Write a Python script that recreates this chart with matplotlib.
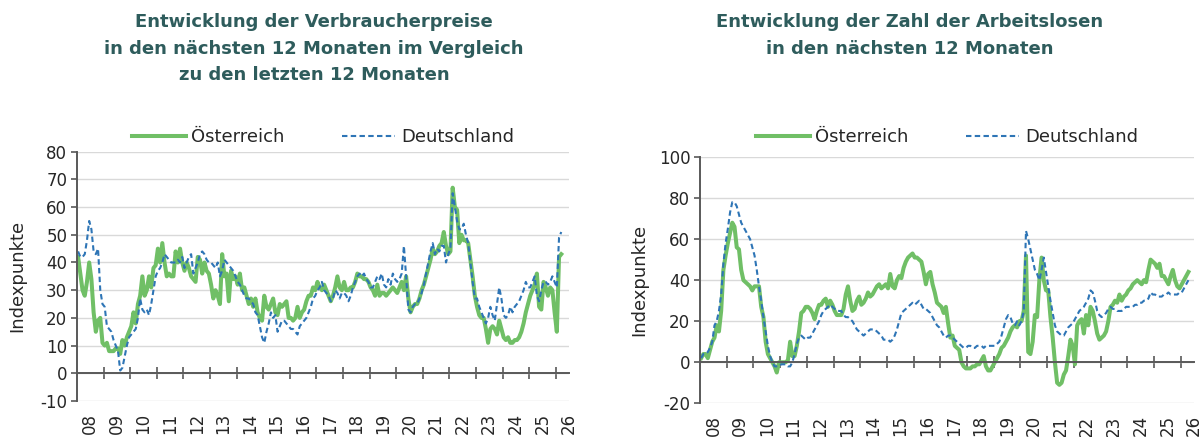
import numpy as np
import matplotlib
matplotlib.use("Agg")
import matplotlib.pyplot as plt
from matplotlib.lines import Line2D
import matplotlib.transforms as mtransforms

# Monatswerte Jänner 2008 bis Anfang 2026 (Indexpunkte), je Zeile ein Jahr
preise_at = [
    42, 36, 30, 28, 33, 40, 34, 22, 15, 19, 20, 11,
    10, 11, 8, 8, 8, 9, 9, 7, 12, 10, 13, 15,
    17, 22, 18, 25, 28, 35, 28, 30, 35, 31, 38, 39,
    45, 40, 47, 40, 35, 36, 35, 35, 44, 40, 45, 40,
    37, 40, 38, 35, 34, 33, 42, 41, 36, 40, 37, 36,
    32, 27, 30, 28, 25, 43, 35, 36, 26, 37, 34, 35,
    32, 36, 30, 31, 28, 25, 27, 24, 27, 22, 20, 19,
    28, 24, 23, 25, 27, 22, 21, 25, 24, 25, 26, 20,
    20, 19, 20, 24, 20, 22, 23, 26, 28, 28, 31, 30,
    33, 31, 30, 32, 30, 28, 26, 28, 31, 35, 31, 30,
    33, 30, 30, 31, 31, 33, 36, 35, 35, 34, 34, 33,
    31, 30, 28, 32, 28, 29, 29, 28, 29, 30, 31, 30,
    29, 31, 33, 30, 35, 27, 22, 24, 25, 25, 27, 30,
    32, 35, 38, 41, 45, 43, 44, 46, 47, 51, 46, 43,
    44, 67, 60, 59, 47, 50, 48, 48, 47, 41, 35, 28,
    24, 21, 20, 20, 16, 11, 16, 17, 16, 14, 19, 16,
    13, 12, 13, 11, 11, 12, 12, 13, 15, 18, 22, 25,
    28, 30, 32, 36, 24, 23, 33, 31, 28, 31, 30, 22,
    15, 42, 43,
]
preise_de = [
    44, 42, 42, 43, 48, 55, 52, 44, 43, 45, 30, 25,
    24, 17, 16, 15, 12, 10, 8, 1, 2, 6, 10, 13,
    14, 15, 16, 20, 27, 23, 22, 23, 21, 25, 30, 35,
    37, 38, 40, 43, 42, 41, 40, 40, 40, 41, 40, 42,
    38, 40, 42, 43, 36, 38, 40, 43, 44, 43, 41, 40,
    40, 39, 38, 40, 35, 37, 41, 40, 39, 38, 37, 35,
    33, 32, 30, 28, 27, 27, 26, 25, 22, 21, 17, 13,
    11, 15, 18, 22, 20, 21, 15, 17, 19, 19, 18, 17,
    16, 16, 15, 14, 17, 18, 19, 20, 22, 24, 27, 28,
    30, 31, 33, 30, 29, 28, 26, 27, 30, 29, 27, 29,
    29, 28, 26, 28, 31, 33, 35, 36, 35, 36, 34, 33,
    31, 31, 33, 35, 34, 36, 32, 31, 34, 32, 36, 34,
    33, 34, 36, 46, 35, 23, 22, 24, 25, 25, 27, 29,
    32, 36, 40, 44, 47, 43, 45, 44, 46, 46, 40, 43,
    45, 65, 60, 55, 52, 52, 54, 50, 47, 40, 33, 27,
    27, 24, 22, 20, 18, 20, 24, 21, 19, 25, 31, 27,
    21, 20, 21, 24, 22, 24, 25, 26, 28, 30, 33, 31,
    31, 33, 35, 28, 26, 30, 33, 33, 32, 33, 35, 33,
    31, 49, 51,
]
arbeitslose_at = [
    2, 4, 4, 2, 6, 10, 12, 18, 15, 25, 45, 52,
    58, 63, 68, 66, 56, 55, 45, 40, 39, 38, 37, 35,
    37, 37, 37, 27, 22, 10, 4, 2, 0, -2, -5, 0,
    0, 0, 0, 1, 10, 3, 3, 8, 15, 24, 25, 27,
    27, 26, 24, 21, 25, 28, 28, 30, 31, 27, 30, 28,
    25, 23, 23, 23, 26, 33, 37, 30, 25, 26, 30, 32,
    28, 29, 31, 34, 32, 33, 35, 37, 38, 36, 37, 38,
    36, 43, 37, 36, 40, 42, 41, 46, 49, 51, 52, 53,
    51, 51, 50, 49, 44, 38, 43, 44, 38, 34, 29, 28,
    27, 24, 27, 19, 12, 13, 8, 7, 6, 0, -2, -3,
    -3, -3, -2, -2, -1, -1, 1, 3, -2, -4, -4, -2,
    0, 2, 4, 7, 8, 10, 12, 15, 17, 18, 17, 20,
    20, 25, 52, 5, 4, 10, 23, 22, 40, 51, 40, 35,
    35, 22, 12, 0, -10, -11, -10, -6, -4, 3, 11, 8,
    -1, 18, 20, 21, 14, 23, 18, 27, 25, 20, 14, 11,
    12, 13, 15, 20, 27, 28, 30, 29, 33, 30, 32, 33,
    35, 36, 38, 39, 40, 39, 38, 40, 39, 45, 50, 49,
    48, 46, 48, 42, 42, 40, 38, 42, 45, 40, 37, 36,
    38, 40, 42, 44,
]
arbeitslose_de = [
    2, 4, 4, 5, 7, 10, 18, 20, 25, 33, 48, 58,
    65, 73, 78, 78, 76, 72, 68, 66, 64, 62, 60, 56,
    52, 45, 37, 30, 22, 15, 8, 3, 0, -2, -2, -2,
    -1, -1, -1, -2, -2, 0, 4, 9, 12, 13, 12, 11,
    12, 12, 14, 16, 18, 20, 23, 25, 26, 27, 28, 27,
    26, 25, 25, 25, 23, 22, 22, 21, 20, 18, 16, 15,
    14, 13, 14, 15, 16, 16, 16, 15, 14, 13, 11, 11,
    11, 10, 11, 13, 16, 20, 24, 25, 26, 27, 28, 29,
    28, 29, 30, 28, 26, 26, 25, 24, 22, 20, 18, 17,
    15, 13, 12, 13, 13, 12, 11, 10, 9, 8, 7, 7,
    8, 8, 7, 7, 8, 8, 8, 7, 8, 8, 8, 8,
    8, 9, 10, 13, 17, 21, 23, 22, 19, 18, 20, 18,
    20, 25, 64, 60, 55, 50, 45, 43, 40, 45, 51, 44,
    37, 30, 24, 18, 15, 14, 13, 13, 15, 17, 18, 19,
    21, 23, 25, 26, 27, 29, 31, 35, 34, 30, 25, 23,
    22, 23, 24, 26, 27, 26, 26, 25, 25, 25, 26, 27,
    27, 27, 27, 28, 28, 29, 29, 30, 30, 31, 34, 33,
    33, 32, 32, 32, 33, 33, 34, 33, 33, 33, 33, 34,
    34, 36, 38, 40,
]

jahre = list(range(2008, 2027))
jahr_labels = [f"{j % 100:02d}" for j in jahre]

titel_links = ["Entwicklung der Verbraucherpreise",
               "in den nächsten 12 Monaten im Vergleich",
               "zu den letzten 12 Monaten"]
titel_rechts = ["Entwicklung der Zahl der Arbeitslosen",
                "in den nächsten 12 Monaten"]

GRUEN = "#70BF66"
BLAU = "#2E75B6"
TITEL = "#2E5C5C"
ACHSE = "#595959"
TEXT = "#262626"
STRICH = (0, (2.6, 1.6))

plt.rcParams['font.family'] = ['DejaVu Sans']
plt.rcParams['axes.unicode_minus'] = False


def monate(werte):
    # Monatsmitte als Jahresbruchteil
    return 2008 + (np.arange(len(werte)) + 0.5) / 12.0


def zeichne_panel(fig, ax, at, de, ymin, ymax, ystep):
    ax.plot(monate(at), at, color=GRUEN, lw=2.9, solid_joinstyle='round')
    ax.plot(monate(de), de, color=BLAU, lw=1.5, linestyle=STRICH)

    ax.set_xlim(2008, 2026.5)
    ax.set_ylim(ymin, ymax)
    ax.set_yticks(np.arange(ymin, ymax + 1, ystep))
    ax.yaxis.grid(True, color="#D9D9D9", lw=1.0)
    ax.set_axisbelow(True)

    # Zeitachse bei 0 mit Jahresstrichen
    ax.spines['bottom'].set_position(('data', 0))
    for s in ['bottom', 'left']:
        ax.spines[s].set_color(ACHSE)
        ax.spines[s].set_linewidth(1.4)
    ax.spines['top'].set_visible(False)
    ax.spines['right'].set_visible(False)
    ax.set_xticks(jahre[1:])
    ax.tick_params(axis='x', direction='inout', length=8, width=1.2,
                   color=ACHSE, labelbottom=False)
    ax.tick_params(axis='y', direction='out', length=4, width=1.2,
                   color=ACHSE, labelsize=12, labelcolor=TEXT, pad=3)

    # Jahreszahlen unter dem Diagramm
    trans = mtransforms.blended_transform_factory(ax.transData, ax.transAxes)
    trans = trans + mtransforms.ScaledTranslation(0, -0.12, fig.dpi_scale_trans)
    for j, lab in zip(jahre, jahr_labels):
        ax.text(j + 0.5, 0, lab, transform=trans, rotation=90,
                ha='center', va='top', fontsize=12, color=TEXT)

    ax.set_ylabel("Indexpunkte", fontsize=13, color=TEXT)
    ax.yaxis.set_label_coords(-0.104, 0.5)

    handles = [Line2D([], [], color=GRUEN, lw=2.9),
               Line2D([], [], color=BLAU, lw=1.5, linestyle=STRICH)]
    ax.legend(handles, ["Österreich", "Deutschland"], loc='center',
              bbox_to_anchor=(0.5, 1.0), ncol=2, frameon=False,
              fontsize=13, handlelength=2.95, handletextpad=0.3,
              columnspacing=3.2, labelcolor=TEXT)


def main():
    fig = plt.figure(figsize=(12.03, 4.37), dpi=100)

    ax1 = fig.add_axes([0.0640, 0.0824, 0.4090, 0.5705])
    zeichne_panel(fig, ax1, preise_at, preise_de, -10, 80, 10)
    ax1.get_legend().set_bbox_to_anchor((0.5, 1.0 + 14.7 / 249.3), transform=ax1.transAxes)

    ax2 = fig.add_axes([0.5819, 0.0771, 0.4106, 0.5636])
    zeichne_panel(fig, ax2, arbeitslose_at, arbeitslose_de, -20, 100, 20)
    ax2.get_legend().set_bbox_to_anchor((0.5, 1.0 + 20.0 / 246.3), transform=ax2.transAxes)

    # Titel zeilenweise
    for i, zeile in enumerate(titel_links):
        fig.text(314 / 1203, 1 - (22 + 26.5 * i) / 437, zeile, ha='center',
                 va='center', fontsize=13, fontweight='bold', color=TITEL)
    for i, zeile in enumerate(titel_rechts):
        fig.text(910 / 1203, 1 - (22 + 26.5 * i) / 437, zeile, ha='center',
                 va='center', fontsize=13, fontweight='bold', color=TITEL)

    fig.savefig("out.png", dpi=100)


if __name__ == "__main__":
    main()
